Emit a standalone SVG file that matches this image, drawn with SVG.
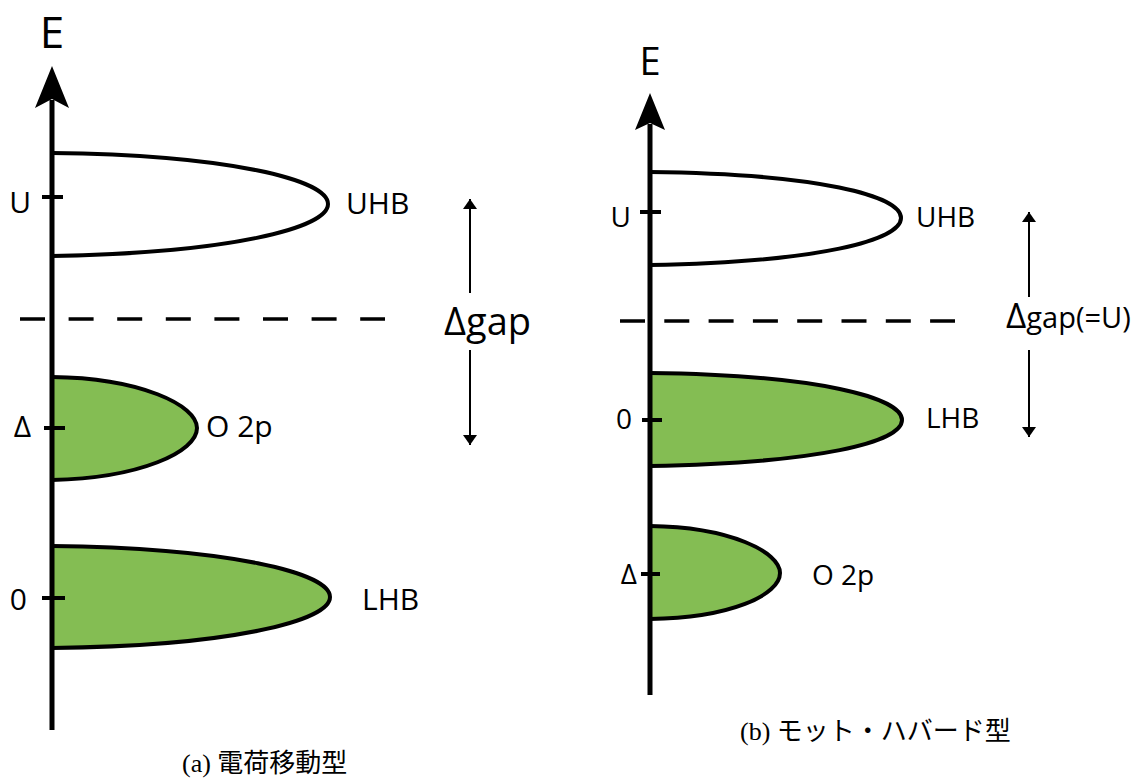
<svg xmlns="http://www.w3.org/2000/svg" width="1142" height="778" viewBox="0 0 1142 778">
<defs>
<style>
.axis{stroke:#000;stroke-width:5;fill:none}
.tick{stroke:#000;stroke-width:4;fill:none}
.band{stroke:#000;stroke-width:4}
.empty{fill:#fff}
.green{fill:#84bd53}
.dash{stroke:#000;stroke-width:3.5;fill:none}
.gap{stroke:#000;stroke-width:2;fill:none}
.lbl{font-family:"Open Sans","Noto Sans",sans-serif;fill:#000}
.cap{font-family:"Liberation Serif","Noto Sans CJK JP",serif;font-size:26px;fill:#000}
</style>
<marker id="ah" viewBox="0 0 10 14" refX="10" refY="7" markerWidth="10" markerHeight="14" markerUnits="userSpaceOnUse" orient="auto">
<path d="M0,0 L10,7 L0,14 Z" fill="#000"/>
</marker>
</defs>
<rect width="1142" height="778" fill="#fff"/>

<g id="connectors">
<line class="gap" x1="470" y1="293" x2="470" y2="199" marker-end="url(#ah)"/>
<line class="gap" x1="470" y1="350" x2="470" y2="445" marker-end="url(#ah)"/>
<line class="gap" x1="1029" y1="297" x2="1029" y2="212" marker-end="url(#ah)"/>
<line class="gap" x1="1029" y1="350" x2="1029" y2="437" marker-end="url(#ah)"/>
</g>

<g id="panel-a">
<g id="a-dash"><line class="dash" stroke-dasharray="25 23.6" x1="20" y1="319" x2="385" y2="319"/></g>
<g id="a-uhb">
<path class="band empty" d="M52,153 C230,155 328,180 328,204 C328,228 230,253 52,256"/>
<line class="tick" x1="42" y1="197" x2="63" y2="197"/>
<text class="lbl" x="31" y="213" font-size="30" text-anchor="end">U</text>
<text class="lbl" x="346" y="214" font-size="30">UHB</text>
</g>
<g id="a-o2p">
<path class="band green" d="M52,377 C140,378 197,405 197,428 C197,452 140,478 52,480"/>
<line class="tick" x1="44" y1="428" x2="65" y2="428"/>
<text class="lbl" x="31" y="437" font-size="30" text-anchor="end">Δ</text>
<text class="lbl" x="206" y="437" font-size="30">O 2p</text>
</g>
<g id="a-lhb">
<path class="band green" d="M52,546 C230,548 330,573 330,597 C330,621 230,646 52,648"/>
<line class="tick" x1="42" y1="598" x2="65" y2="598"/>
<text class="lbl" x="27" y="610" font-size="30" text-anchor="end">0</text>
<text class="lbl" x="362" y="610" font-size="30">LHB</text>
</g>
<g id="a-axis">
<line class="axis" x1="52" y1="100" x2="52" y2="730"/>
<path d="M52,66 L69,108 L52,99 L35,108 Z" fill="#000"/>
<text class="lbl" x="52" y="48" font-size="44" text-anchor="middle">E</text>
</g>
<g id="a-gap">
<text class="lbl" x="444" y="335" font-size="38">Δgap</text>
</g>
<text class="cap" x="182" y="772">(a) 電荷移動型</text>
</g>

<g id="panel-b">
<g id="b-dash"><line class="dash" stroke-dasharray="25 19.3" x1="620" y1="321" x2="955" y2="321"/></g>
<g id="b-uhb">
<path class="band empty" d="M650,172 C820,174 901,196 901,218 C901,240 820,262 650,265"/>
<line class="tick" x1="640" y1="212" x2="661" y2="212"/>
<text class="lbl" x="631" y="227" font-size="28" text-anchor="end">U</text>
<text class="lbl" x="916" y="227" font-size="28">UHB</text>
</g>
<g id="b-lhb">
<path class="band green" d="M650,373 C820,375 902,398 902,420 C902,442 820,463 650,466"/>
<line class="tick" x1="642" y1="420" x2="662" y2="420"/>
<text class="lbl" x="632" y="429" font-size="28" text-anchor="end">0</text>
<text class="lbl" x="926" y="428" font-size="28">LHB</text>
</g>
<g id="b-o2p">
<path class="band green" d="M650,526 C730,527 780,552 780,573 C780,595 730,618 650,619"/>
<line class="tick" x1="641" y1="574" x2="660" y2="574"/>
<text class="lbl" x="637" y="584" font-size="28" text-anchor="end">Δ</text>
<text class="lbl" x="812" y="585" font-size="28">O 2p</text>
</g>
<g id="b-axis">
<line class="axis" x1="650" y1="124" x2="650" y2="695"/>
<path d="M650,93 L665,130 L650,123 L635,130 Z" fill="#000"/>
<text class="lbl" x="650" y="75" font-size="38" text-anchor="middle">E</text>
</g>
<g id="b-gap">
<text class="lbl" x="1006" y="328" font-size="35">Δ<tspan font-size="29">gap(=U)</tspan></text>
</g>
<text class="cap" x="740" y="740">(b) モット・ハバード型</text>
</g>
</svg>
